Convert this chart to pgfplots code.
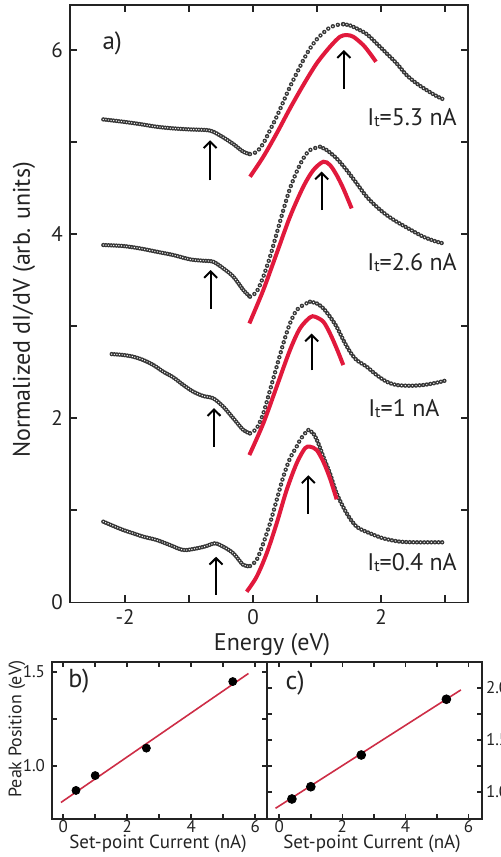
\documentclass[border=0pt]{standalone}
\usepackage{fontspec}
\setmainfont{PT Sans}
\usepackage{pgfplots}
\pgfplotsset{compat=1.18}
\usepackage{pgfplotstable}
\usetikzlibrary{arrows.meta}
\definecolor{fitred}{RGB}{225,25,60}
\definecolor{dotgray}{RGB}{55,55,55}
\definecolor{axgray}{RGB}{35,35,35}
\definecolor{linered}{RGB}{205,45,70}

% ---- I_t = 5.3 nA
\pgfplotstableread{
x y
-2.339 5.247
-2.026 5.221
-1.766 5.196
-1.505 5.167
-1.245 5.149
-0.984 5.138
-0.724 5.131
-0.620 5.113
-0.464 5.051
-0.307 4.979
-0.151 4.895
-0.047 4.870
}\dA
\pgfplotstableread{
x y
-0.047 4.870
0.057 4.895
0.161 4.986
0.266 5.131
0.370 5.276
0.474 5.439
0.578 5.602
0.682 5.747
0.786 5.891
0.891 6.018
0.995 6.116
1.099 6.188
1.203 6.246
1.307 6.272
1.411 6.282
}\dB
\pgfplotstableread{
x y
1.411 6.282
1.516 6.268
1.620 6.235
1.776 6.174
1.932 6.072
2.089 5.964
2.245 5.855
2.401 5.728
2.557 5.638
2.714 5.565
2.870 5.500
3.000 5.457
}\dC
% ---- I_t = 2.6 nA
\pgfplotstableread{
x y
-2.339 3.882
-2.026 3.871
-1.766 3.845
-1.505 3.809
-1.245 3.773
-0.984 3.726
-0.776 3.711
-0.620 3.700
-0.464 3.628
-0.307 3.538
-0.151 3.393
-0.047 3.320
}\cA
\pgfplotstableread{
x y
-0.047 3.320
0.057 3.375
0.161 3.538
0.266 3.755
0.370 4.008
0.474 4.262
0.578 4.497
0.682 4.678
0.786 4.823
0.891 4.914
1.047 4.950
}\cB
\pgfplotstableread{
x y
1.047 4.950
1.151 4.914
1.307 4.823
1.463 4.696
1.620 4.552
1.776 4.407
1.932 4.298
2.089 4.207
2.245 4.135
2.453 4.052
2.661 3.972
2.870 3.918
2.974 3.900
}\cC
% ---- I_t = 1 nA
\pgfplotstableread{
x y
-2.208 2.697
-2.026 2.687
-1.870 2.668
-1.714 2.632
-1.557 2.578
-1.401 2.505
-1.245 2.444
-1.089 2.361
-0.932 2.288
-0.776 2.241
-0.620 2.216
-0.464 2.125
-0.307 1.999
-0.151 1.872
-0.047 1.836
}\bA
\pgfplotstableread{
x y
-0.047 1.836
0.057 1.890
0.161 2.053
0.266 2.306
0.370 2.560
0.474 2.813
0.578 3.031
0.682 3.175
0.786 3.230
0.891 3.266
}\bB
\pgfplotstableread{
x y
0.891 3.266
0.995 3.248
1.099 3.194
1.203 3.103
1.307 2.994
1.411 2.850
1.516 2.723
1.620 2.632
1.776 2.560
1.932 2.469
2.089 2.397
2.245 2.361
2.453 2.353
2.661 2.361
2.870 2.386
3.000 2.408
}\bC
% ---- I_t = 0.4 nA
\pgfplotstableread{
x y
-2.339 0.876
-2.182 0.829
-2.026 0.785
-1.870 0.749
-1.714 0.713
-1.505 0.677
-1.297 0.622
-1.089 0.568
-0.880 0.586
-0.724 0.612
-0.594 0.641
-0.464 0.604
-0.307 0.532
-0.151 0.405
-0.047 0.394
}\aA
\pgfplotstableread{
x y
-0.047 0.394
0.057 0.460
0.161 0.641
0.266 0.858
0.370 1.111
0.474 1.365
0.578 1.564
0.682 1.691
0.734 1.763
0.813 1.836
0.865 1.872
}\aB
\pgfplotstableread{
x y
0.865 1.872
0.943 1.836
1.021 1.727
1.099 1.582
1.203 1.401
1.307 1.184
1.464 0.967
1.620 0.821
1.828 0.750
2.036 0.695
2.297 0.659
2.557 0.652
2.818 0.652
3.000 0.652
}\aC
% ---- fits
\pgfplotstableread{
x y
-0.047 4.624
0.161 4.841
0.370 5.095
0.578 5.366
0.786 5.620
0.995 5.855
1.203 6.036
1.359 6.145
1.464 6.163
1.568 6.145
1.724 6.054
1.828 5.964
1.922 5.873
}\fD
\pgfplotstableread{
x y
-0.057 3.030
0.161 3.393
0.370 3.791
0.578 4.189
0.786 4.515
0.943 4.696
1.099 4.787
1.203 4.751
1.307 4.642
1.411 4.497
1.542 4.280
}\fC
\pgfplotstableread{
x y
-0.057 1.600
0.161 1.944
0.370 2.343
0.578 2.741
0.734 2.976
0.891 3.096
0.969 3.103
1.099 3.049
1.203 2.922
1.307 2.759
1.411 2.578
}\fB
\pgfplotstableread{
x y
-0.099 0.115
0.057 0.278
0.214 0.532
0.370 0.858
0.526 1.220
0.682 1.510
0.812 1.673
0.891 1.691
0.995 1.655
1.099 1.528
1.203 1.347
1.307 1.119
}\fA
% ---- panel b / c
\pgfplotstableread{
x y
0.4 0.869
1.0 0.948
2.6 1.094
5.3 1.448
}\peakb
\pgfplotstableread{
x y
0.4 0.930
1.0 1.048
2.6 1.354
5.3 1.891
}\peakc

\newcommand{\dotcurve}[2]{%
  \addplot[smooth, no markers, draw=dotgray, line width=2.2pt, line cap=round, dash pattern=on 0pt off #1] table {#2};
  \addplot[smooth, no markers, draw=white, line width=0.7pt, line cap=round, dash pattern=on 0pt off #1] table {#2};
}
\newcommand{\fitcurve}[1]{%
  \addplot[smooth, no markers, draw=fitred, line width=2pt] table {#1};
}
\newcommand{\Itlab}[1]{I\raisebox{-0.6pt}{\fontsize{8}{8}\selectfont t}=#1}

\pgfplotsset{
  common/.style={
    scale only axis, clip=false,
    tick align=inside,
    xtick pos=both, ytick pos=both,
    axis line style={line width=0.8pt, draw=axgray},
    every tick/.style={line width=0.8pt, draw=axgray},
    /pgf/number format/assume math mode=true,
  }
}

\begin{document}
\begin{tikzpicture}
\path[use as bounding box] (0,0) rectangle (250.5pt,-428.5pt);

\begin{axis}[common,
  at={(35pt,-301.15pt)}, anchor=south west,
  width=199pt, height=298.65pt,
  xmin=-2.86, xmax=3.36, ymin=0, ymax=6.49,
  xtick={-2,0,2}, ytick={0,2,4,6},
  minor xtick={-1,1,3}, minor ytick={1,3,5},
  major tick length=3.5pt, minor tick length=3.5pt,
  tick label style={font=\fontsize{10.5}{12}\selectfont, text=axgray},
]
\dotcurve{1.3pt}{\dA}\dotcurve{2.6pt}{\dB}\dotcurve{1.8pt}{\dC}
\dotcurve{1.3pt}{\cA}\dotcurve{2.6pt}{\cB}\dotcurve{1.8pt}{\cC}
\dotcurve{1.3pt}{\bA}\dotcurve{2.6pt}{\bB}\dotcurve{1.8pt}{\bC}
\dotcurve{1.3pt}{\aA}\dotcurve{2.6pt}{\aB}\dotcurve{1.8pt}{\aC}
\fitcurve{\fD}\fitcurve{\fC}\fitcurve{\fB}\fitcurve{\fA}
\begin{scope}[line width=1pt, -{Straight Barb[length=3.2pt,width=6.5pt]}]
\draw (axis cs:-0.670,4.585) -- (axis cs:-0.670,5.020);
\draw (axis cs:1.420,5.580) -- (axis cs:1.420,6.000);
\draw (axis cs:-0.662,3.190) -- (axis cs:-0.662,3.610);
\draw (axis cs:1.073,4.260) -- (axis cs:1.073,4.680);
\draw (axis cs:-0.609,1.690) -- (axis cs:-0.609,2.110);
\draw (axis cs:0.917,2.520) -- (axis cs:0.917,2.920);
\draw (axis cs:-0.578,0.080) -- (axis cs:-0.578,0.495);
\draw (axis cs:0.865,0.960) -- (axis cs:0.865,1.380);
\end{scope}
\begin{scope}[every node/.style={font=\fontsize{12}{14}\selectfont, text=axgray, anchor=base east, inner sep=0pt}]
\node at (axis cs:3.19,5.185) {\Itlab{5.3 nA}};
\node at (axis cs:3.19,3.610) {\Itlab{2.6 nA}};
\node at (axis cs:2.92,2.016) {\Itlab{1 nA}};
\node at (axis cs:3.19,0.350) {\Itlab{0.4 nA}};
\end{scope}
\node[font=\fontsize{12.5}{14}\selectfont, text=axgray] at (axis cs:-2.2,6.07) {a)};
\end{axis}

\begin{axis}[common,
  at={(26pt,-409.5pt)}, anchor=south west,
  width=107.5pt, height=78.5pt,
  xmin=-0.35, xmax=6.37, ymin=0.717, ymax=1.552,
  xtick={0,2,4,6}, minor xtick={1,3,5},
  ytick={1.0,1.5}, minor ytick={1.25},
  major tick length=2.5pt, minor tick length=2.5pt,
  yticklabel style={/pgf/number format/.cd, fixed, fixed zerofill, precision=1},
  tick label style={font=\fontsize{8.5}{10}\selectfont, text=axgray},
  xticklabel style={yshift=2.8pt},
]
\addplot[only marks, mark=*, mark size=2pt, mark options={fill=black, draw=black}] table {\peakb};
\addplot[no markers, draw=linered, line width=0.8pt] coordinates {(-0.07,0.805) (5.79,1.491)};
\node[font=\fontsize{13}{15}\selectfont, text=axgray] at (axis cs:0.49,1.452) {b)};
\end{axis}

\begin{axis}[common,
  at={(133.5pt,-409.5pt)}, anchor=south west,
  width=107.5pt, height=78.5pt,
  xmin=-0.39, xmax=6.43, ymin=0.737, ymax=2.25,
  xtick={0,2,4,6}, minor xtick={1,3,5},
  ytick={1.0,1.5,2.0}, minor ytick={1.25,1.75},
  yticklabel pos=right,
  major tick length=2.5pt, minor tick length=2.5pt,
  yticklabel style={xshift=-1.5pt, /pgf/number format/.cd, fixed, fixed zerofill, precision=1},
  tick label style={font=\fontsize{8.5}{10}\selectfont, text=axgray},
  xticklabel style={yshift=2.8pt},
]
\addplot[only marks, mark=*, mark size=2.2pt, mark options={fill=black, draw=black}] table {\peakc};
\addplot[no markers, draw=linered, line width=0.8pt] coordinates {(-0.12,0.840) (5.76,1.981)};
\node[font=\fontsize{13}{15}\selectfont, text=axgray] at (axis cs:0.5,2.048) {c)};
\end{axis}

\node[rotate=90, font=\fontsize{12}{14}\selectfont, text=axgray] at (12pt,-155pt) {Normalized dI/dV (arb. units)};
\node[font=\fontsize{12}{14}\selectfont, text=axgray] at (136pt,-322.5pt) {Energy (eV)};
\node[rotate=90, font=\fontsize{9}{11}\selectfont, text=axgray] at (8.5pt,-364.5pt) {Peak Position (eV)};
\node[font=\fontsize{9.5}{11}\selectfont, text=axgray, anchor=base, inner sep=0pt] at (79pt,-424pt) {Set-point Current (nA)};
\node[font=\fontsize{9.5}{11}\selectfont, text=axgray, anchor=base, inner sep=0pt] at (186pt,-424pt) {Set-point Current (nA)};
\end{tikzpicture}
\end{document}
